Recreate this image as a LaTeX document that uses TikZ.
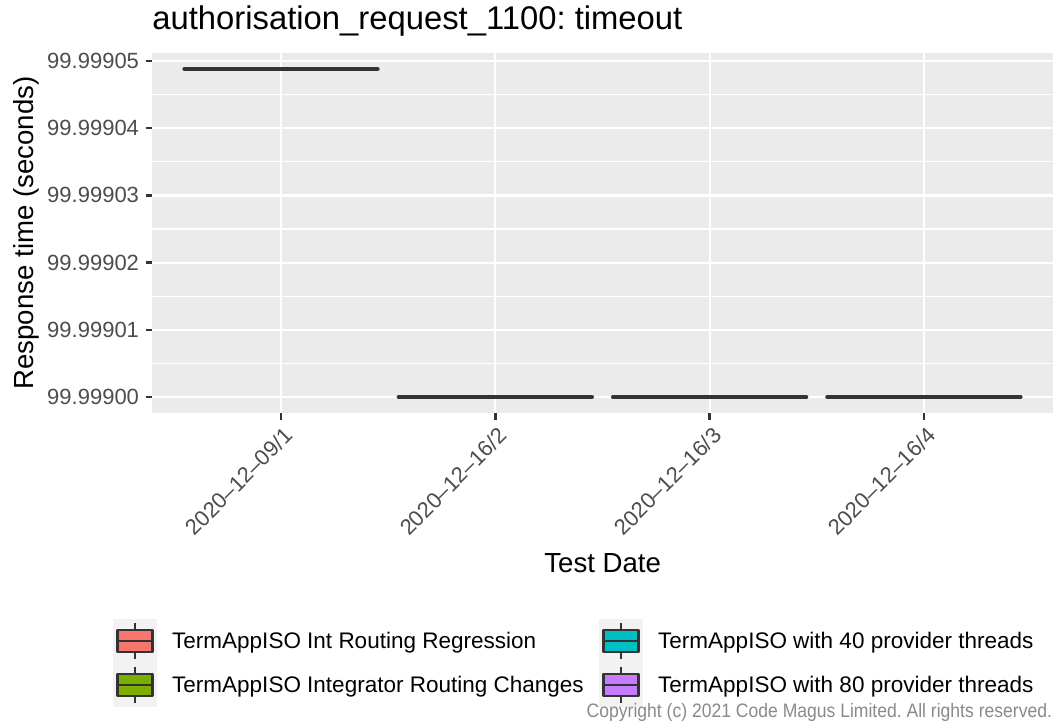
\documentclass[tikz,border=0pt]{standalone}
\usepackage{fontspec}
\setmainfont{Liberation Sans}
\frenchspacing
\definecolor{panelbg}{HTML}{EBEBEB}
\definecolor{keybg}{HTML}{F2F2F2}
\definecolor{dark}{HTML}{333333}
\definecolor{ticklab}{HTML}{4D4D4D}
\definecolor{copygrey}{HTML}{8A8A8A}
\definecolor{cred}{HTML}{F8766D}
\definecolor{cgreen}{HTML}{7CAE00}
\definecolor{ccyan}{HTML}{00BFC4}
\definecolor{cpurple}{HTML}{C77CFF}
\tikzset{
  every node/.style={inner sep=0pt, outer sep=0pt},
  majorgrid/.style={white, line width=2.2pt},
  minorgrid/.style={white, line width=1.1pt},
  tickmark/.style={dark, line width=2.4pt},
  databar/.style={dark, line width=4.6pt, line cap=round},
  ticklabel/.style={text=ticklab, font=\fontsize{22}{26}\selectfont},
  axistitle/.style={text=black, font=\fontsize{27.6}{32}\selectfont},
  legendtext/.style={text=black, font=\fontsize{22.5}{27}\selectfont},
  keyline/.style={dark, line width=2.8pt},
  keybox/.style={draw=dark, line width=2.8pt, line join=round},
}
\begin{document}
\begin{tikzpicture}[x=1pt,y=-1pt]
\useasboundingbox (0,0) rectangle (1054,725);
\fill[white] (0,0) rectangle (1054,725);
% panel
\fill[panelbg] (152.4,52.6) rectangle (1053,413.4);
\foreach \y in {94.6,161.8,229,296.2,363.4}
  \draw[minorgrid] (152.4,\y) -- (1053,\y);
\foreach \y in {61,128.2,195.4,262.6,329.8,397}
  \draw[majorgrid] (152.4,\y) -- (1053,\y);
\foreach \x in {281,495.3,709.6,923.9}
  \draw[majorgrid] (\x,52.6) -- (\x,413.4);
% data bars
\foreach \x/\y [count=\i] in {281/69,495.3/397,709.6/397,923.9/397}{
  \coordinate (b\i l) at (\x-96.4,\y);
  \coordinate (b\i r) at (\x+96.4,\y);
  \draw[databar] (b\i l) -- (b\i r);
}
% y axis ticks and labels
\foreach \y/\t [count=\i] in {61/99.99905,128.2/99.99904,195.4/99.99903,262.6/99.99902,329.8/99.99901,397/99.99900}{
  \draw[tickmark] (145.8,\y) -- (152.4,\y);
  \node[ticklabel, anchor=east] (yl\i) at (139,\y) {\t};
}
% x axis ticks and labels
\foreach \x/\t [count=\i] in {281/{2020–12–09/1},495.3/{2020–12–16/2},709.6/{2020–12–16/3},923.9/{2020–12–16/4}}{
  \draw[tickmark] (\x,413.4) -- (\x,420);
  \node[ticklabel, rotate=45, anchor=north east] (xl\i) at (\x+2,426) {\t};
}
% titles
\node[anchor=base west, font=\fontsize{32.8}{39}\selectfont] (title) at (152.4,29.5) {authorisation\_request\_1100: timeout};
\node[axistitle, anchor=base] (xtitle) at (602.7,572) {Test Date};
\node[axistitle, anchor=base, rotate=90] (ytitle) at (33,233) {Response time (seconds)};
% legend
\fill[keybg] (113,619) rectangle (157,707);
\fill[keybg] (599,619) rectangle (643,707);
\foreach \cx/\cy/\col/\t [count=\i] in {
  135/641/cred/TermAppISO Int Routing Regression,
  135/685/cgreen/TermAppISO Integrator Routing Changes,
  621/641/ccyan/TermAppISO with 40 provider threads,
  621/685/cpurple/TermAppISO with 80 provider threads}{
  \draw[keyline] (\cx,\cy-17.6) -- (\cx,\cy-11);
  \draw[keyline] (\cx,\cy+11) -- (\cx,\cy+17.6);
  \filldraw[keybox, fill=\col] (\cx-17.2,\cy-11) rectangle (\cx+17.2,\cy+11);
  \draw[keyline] (\cx-17.2,\cy) -- (\cx+17.2,\cy);
  \node[legendtext, anchor=base west] (lt\i) at (\cx+37.2,\cy+7.6) {\t};
}
% copyright
\node[anchor=base east, text=copygrey, xscale=0.9, font=\fontsize{19.5}{23}\selectfont] (copy) at (1052,717) {Copyright (c) 2021 Code Magus Limited. All rights reserved.};
\end{tikzpicture}
\end{document}
